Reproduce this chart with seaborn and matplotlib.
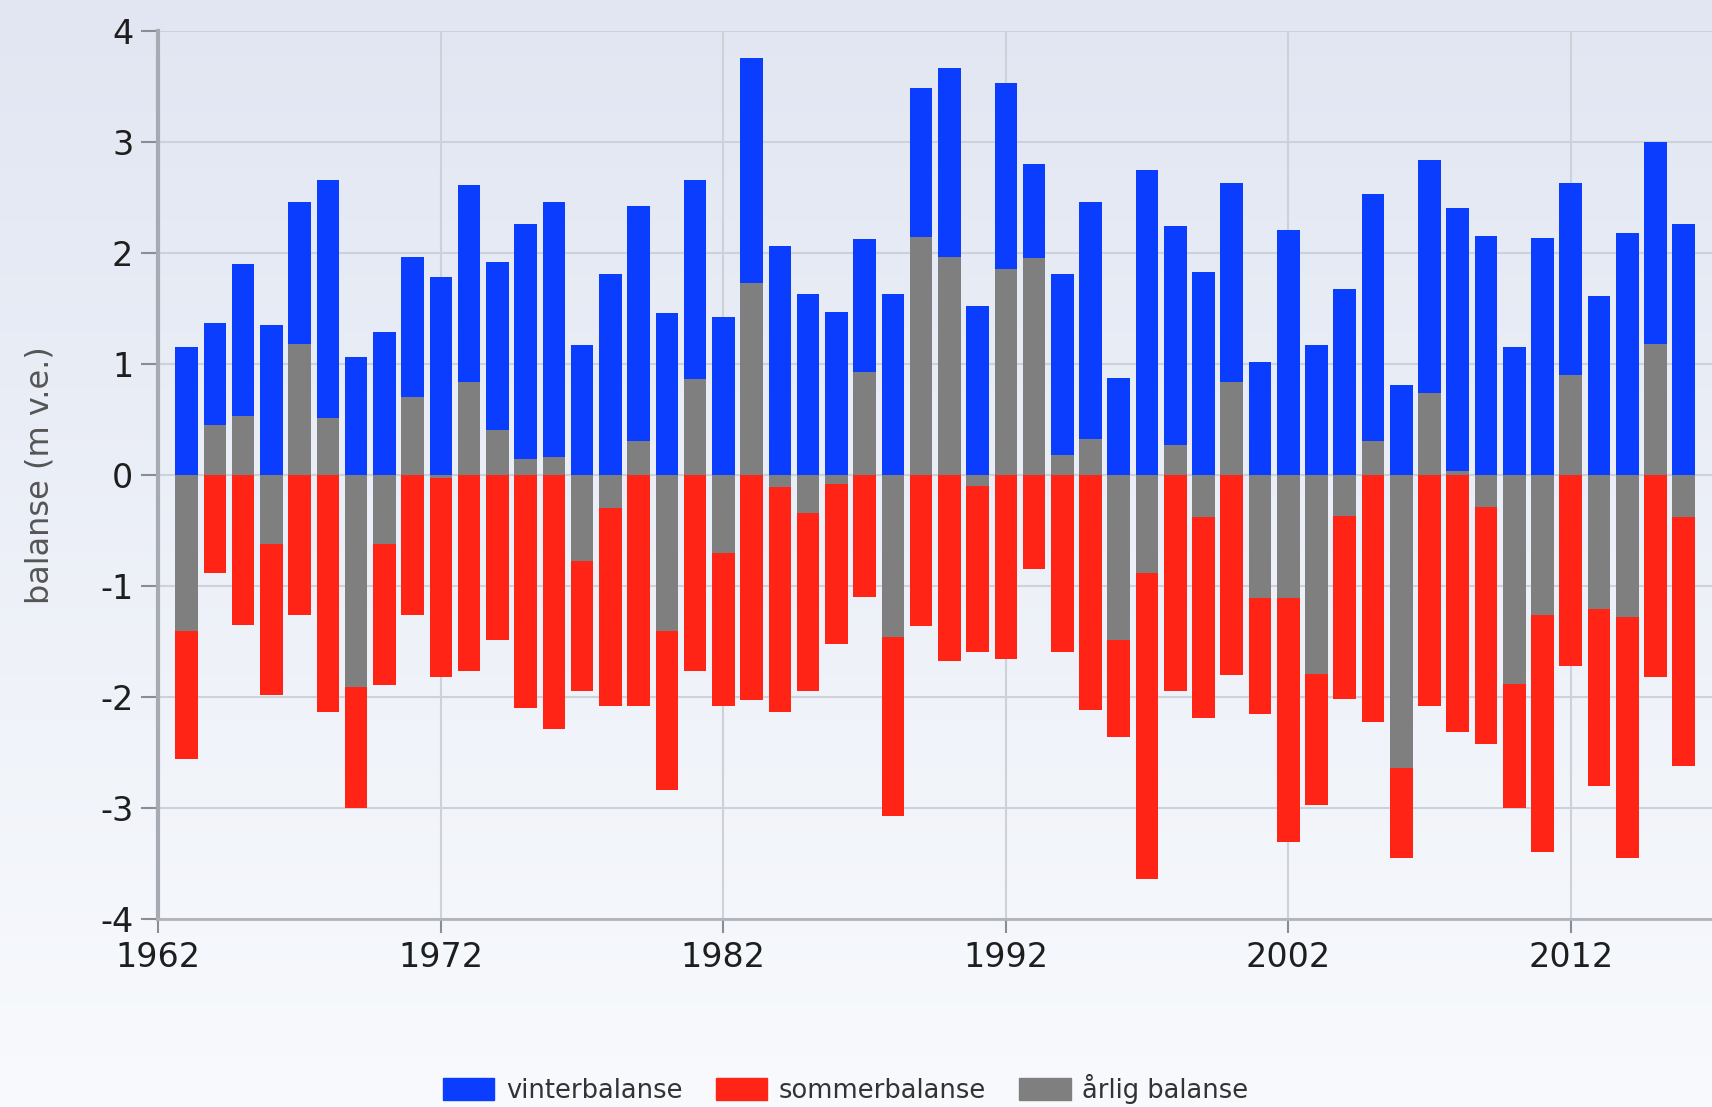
import numpy as np
import pandas as pd
import matplotlib
matplotlib.use("Agg")
import matplotlib.pyplot as plt
from matplotlib.patches import Patch
from matplotlib.colors import LinearSegmentedColormap
import seaborn as sns

# === Data (m v.e.), lest av figuren ===
years = list(range(1963, 2017))
vinter = [1.15, 1.37, 1.90, 1.35, 2.46, 2.65, 1.06, 1.29, 1.96, 1.78,
          2.61, 1.92, 2.26, 2.46, 1.17, 1.81, 2.42, 1.46, 2.65, 1.42,
          3.75, 2.06, 1.63, 1.47, 2.12, 1.63, 3.48, 3.66, 1.52, 3.53,
          2.80, 1.81, 2.46, 0.87, 2.74, 2.24, 1.83, 2.63, 1.02, 2.20,
          1.17, 1.67, 2.53, 0.81, 2.83, 2.40, 2.15, 1.15, 2.13, 2.63,
          1.61, 2.18, 3.00, 2.26]
sommer = [-2.56, -0.88, -1.35, -1.98, -1.26, -2.14, -3.00, -1.89, -1.26, -1.82,
          -1.77, -1.49, -2.10, -2.29, -1.95, -2.08, -2.08, -2.84, -1.77, -2.08,
          -2.03, -2.14, -1.95, -1.52, -1.10, -3.07, -1.36, -1.68, -1.60, -1.66,
          -0.85, -1.60, -2.12, -2.36, -3.64, -1.95, -2.19, -1.80, -2.15, -3.31,
          -2.97, -2.02, -2.23, -3.45, -2.08, -2.32, -2.42, -3.00, -3.40, -1.72,
          -2.80, -3.45, -1.82, -2.62]
aarlig = [-1.41, 0.45, 0.53, -0.62, 1.18, 0.51, -1.91, -0.62, 0.70, -0.03,
          0.84, 0.40, 0.14, 0.16, -0.78, -0.30, 0.30, -1.41, 0.86, -0.70,
          1.73, -0.11, -0.34, -0.08, 0.93, -1.46, 2.14, 1.96, -0.10, 1.85,
          1.95, 0.18, 0.32, -1.49, -0.88, 0.27, -0.38, 0.84, -1.11, -1.11,
          -1.79, -0.37, 0.30, -2.64, 0.74, 0.03, -0.29, -1.88, -1.26, 0.90,
          -1.21, -1.28, 1.18, -0.38]

serier = ["vinterbalanse", "sommerbalanse", "årlig balanse"]
farger = ["#0b3dff", "#ff2415", "#7f7f7f"]

n = len(years)
df = pd.DataFrame({
    "år": years * 3,
    "balanse": vinter + sommer + aarlig,
    "serie": [serier[0]] * n + [serier[1]] * n + [serier[2]] * n,
})

sns.set_theme(style="white")
plt.rcParams["font.family"] = ["DejaVu Sans"]
plt.rcParams["axes.unicode_minus"] = False

fig = plt.figure(figsize=(17.12, 11.07), dpi=100)

# bakgrunn med gradient
bg = fig.add_axes([0, 0, 1, 1], zorder=-10)
grad = np.linspace(0, 1, 256).reshape(-1, 1)
cmap = LinearSegmentedColormap.from_list("bg", ["#e1e6f2", "#f8fafd"])
bg.imshow(grad, aspect="auto", cmap=cmap, extent=[0, 1, 0, 1])
bg.axis("off")

ax = fig.add_axes([0.0925, 0.1698, 0.9075, 0.8026])
ax.set_facecolor("none")

sns.barplot(data=df, x="år", y="balanse", hue="serie", hue_order=serier,
            palette=farger, native_scale=True, dodge=False, width=0.8,
            saturation=1, errorbar=None, linewidth=0, legend=False, ax=ax)

ax.set_xlim(1962, 2017)
ax.set_ylim(-4, 4)
ax.set_xticks(range(1962, 2017, 10))
ax.set_xticklabels([str(y) for y in range(1962, 2017, 10)])
ax.set_yticks(range(-4, 5))
ax.set_yticklabels([str(v) for v in range(-4, 5)])
ax.grid(True, color="#cdd1da", lw=1.5)
ax.set_axisbelow(True)

ax.tick_params(axis="y", left=True, length=12, width=1.5, color="#8a8d94",
               labelsize=24, labelcolor="#1e1e1e", pad=6)
ax.tick_params(axis="x", bottom=True, length=10, width=1.5, color="#8a8d94",
               labelsize=24, labelcolor="#1e1e1e", pad=6)
for s in ["top", "right"]:
    ax.spines[s].set_visible(False)
ax.spines["left"].set_color("#a6aab2")
ax.spines["left"].set_linewidth(3)
ax.spines["bottom"].set_color("#b0b4bc")
ax.spines["bottom"].set_linewidth(2)

ax.set_xlabel("")
ax.set_ylabel("balanse (m v.e.)", fontsize=23, color="#555")
ax.yaxis.set_label_coords(-0.066, 0.5)

handles = [Patch(color=c, label=s) for c, s in zip(farger, serier)]
fig.legend(handles=handles, loc="center", bbox_to_anchor=(0.494, 0.0167),
           ncol=3, frameon=False, fontsize=18.5, handlelength=2.0,
           handleheight=0.95, columnspacing=1.3, handletextpad=0.45,
           labelcolor="#333")

fig.savefig("out.png", dpi=100)
